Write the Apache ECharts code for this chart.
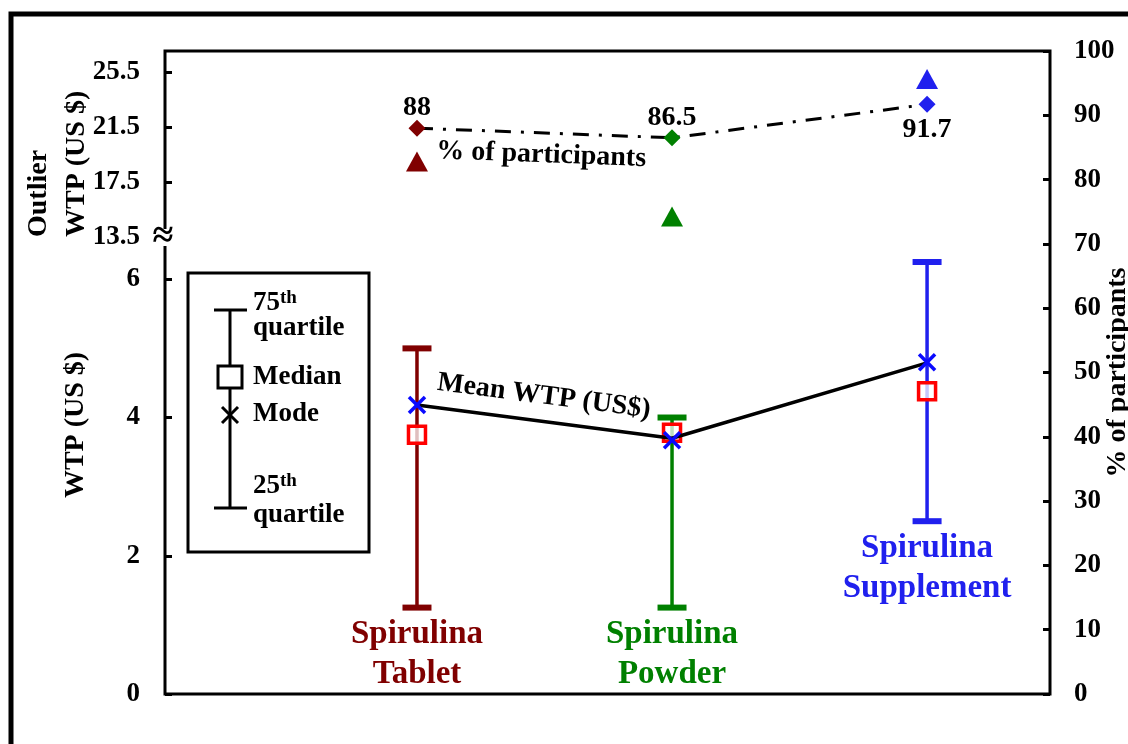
<!DOCTYPE html>
<html>
<head>
<meta charset="utf-8">
<script src="https://cdn.jsdelivr.net/npm/echarts@6/dist/echarts.min.js"></script>
<style>
  html, body { margin: 0; padding: 0; background: #fff; }
  #chart { width: 1128px; height: 744px; }
</style>
</head>
<body>
<div id="chart"></div>
<script>
// ---- data ----
const categories = ['Spirulina\nTablet', 'Spirulina\nPowder', 'Spirulina\nSupplement'];
const q25WTP = [1.25, 1.25, 2.5];          // 25th quartile, US$
const q75WTP = [5.0, 4.0, 6.25];           // 75th quartile, US$
const medianWTP = [3.75, 3.78, 4.38];
const modeWTP = [4.18, 3.67, 4.8];
const meanWTP = [4.18, 3.7, 4.79];
const outlierWTP = [19, 15, 25];
const participantPct = [88, 86.5, 91.7];
const wtpTickValues = [0, 2, 4, 6, 13.5, 17.5, 21.5, 25.5];
const wtpTickLabels = ['0', '2', '4', '6', '13.5', '17.5', '21.5', '25.5'];

// ---- styling ----
const catColors = ['#800000', '#008000', '#2020ee'];
const FONT = '"Liberation Serif", "Times New Roman", serif';

// Broken WTP scale: 0–6 US$ in the lower part, 13.5–25.5 US$ compressed above the break.
// Both map onto a shared 0–100 axis that lines up with the right-hand % axis.
const LOWER_SCALE = 10.75;
const BREAK_BASE = 71.07;
const UPPER_SCALE = 2.138;
function wtpAxis(v) {
  return v < 10 ? v * LOWER_SCALE : BREAK_BASE + (v - 13.5) * UPPER_SCALE;
}
const xPos = categories.map((c, i) => i + 1);

const chart = echarts.init(document.getElementById('chart'), null, { renderer: 'canvas' });

const labelFont = { fontFamily: FONT, fontWeight: 'bold', fontSize: 27, color: '#000' };

const option = {
  animation: false,
  backgroundColor: '#fff',
  grid: {
    left: 165, top: 51, width: 885, height: 643,
    containLabel: false, outerBoundsMode: 'none',
    show: true, borderColor: '#000', borderWidth: 3, backgroundColor: 'transparent'
  },
  xAxis: { type: 'value', min: 0.012, max: 3.482, show: false },
  yAxis: [
    {
      type: 'value', min: 0, max: 100, position: 'left',
      axisLine: { show: false },
      splitLine: { show: false },
      axisTick: {
        show: true, inside: true, length: 7,
        lineStyle: { color: '#000', width: 3 },
        customValues: wtpTickValues.filter(v => v !== 13.5).map(wtpAxis)
      },
      axisLabel: Object.assign({
        margin: 25,
        customValues: wtpTickValues.map(wtpAxis),
        formatter: function (val) {
          const idx = wtpTickValues.findIndex(v => Math.abs(wtpAxis(v) - val) < 1e-6);
          return idx >= 0 ? wtpTickLabels[idx] : '';
        }
      }, labelFont)
    },
    {
      type: 'value', min: 0, max: 100, interval: 10, position: 'right',
      axisLine: { show: false },
      splitLine: { show: false },
      axisTick: { show: true, inside: true, length: 7, lineStyle: { color: '#000', width: 3 } },
      axisLabel: Object.assign({ margin: 24 }, labelFont)
    }
  ],
  series: [
    // interquartile bars
    {
      type: 'custom',
      name: 'quartiles',
      z: 2,
      data: xPos.map((x, i) => [x, wtpAxis(q25WTP[i]), wtpAxis(q75WTP[i])]),
      renderItem: function (params, api) {
        const x = api.value(0);
        const lo = api.coord([x, api.value(1)]);
        const hi = api.coord([x, api.value(2)]);
        const color = catColors[params.dataIndex];
        const half = 14.5;
        return {
          type: 'group',
          children: [
            { type: 'line', shape: { x1: lo[0], y1: lo[1], x2: hi[0], y2: hi[1] }, style: { stroke: color, lineWidth: 3.5 } },
            { type: 'line', shape: { x1: lo[0] - half, y1: lo[1], x2: lo[0] + half, y2: lo[1] }, style: { stroke: color, lineWidth: 6 } },
            { type: 'line', shape: { x1: hi[0] - half, y1: hi[1], x2: hi[0] + half, y2: hi[1] }, style: { stroke: color, lineWidth: 6 } }
          ]
        };
      }
    },
    // category names beneath each bar
    {
      type: 'scatter',
      name: 'names',
      symbolSize: 0,
      silent: true,
      itemStyle: { opacity: 1 },
      data: xPos.map((x, i) => ({
        value: [x, wtpAxis(q25WTP[i])],
        label: { color: catColors[i] }
      })),
      label: {
        show: true, position: 'bottom', distance: 7, opacity: 1,
        formatter: p => categories[p.dataIndex],
        fontFamily: FONT, fontWeight: 'bold', fontSize: 33, lineHeight: 40, align: 'center'
      }
    },
    // medians
    {
      type: 'scatter',
      name: 'Median',
      z: 3,
      symbol: 'rect',
      symbolSize: 17,
      itemStyle: { color: 'rgba(255,255,255,0.75)', borderColor: '#ff0000', borderWidth: 3.5, opacity: 1 },
      data: xPos.map((x, i) => [x, wtpAxis(medianWTP[i])])
    },
    // mean WTP line
    {
      type: 'line',
      name: 'Mean WTP (US$)',
      z: 4,
      symbol: 'none',
      lineStyle: { color: '#000', width: 3.5 },
      data: xPos.map((x, i) => [x, wtpAxis(meanWTP[i])])
    },
    // modes
    {
      type: 'custom',
      name: 'Mode',
      z: 5,
      data: xPos.map((x, i) => [x, wtpAxis(modeWTP[i])]),
      renderItem: function (params, api) {
        const p = api.coord([api.value(0), api.value(1)]);
        const h = 8;
        const st = { stroke: '#0a0aff', lineWidth: 3.5 };
        return {
          type: 'group',
          children: [
            { type: 'line', shape: { x1: p[0] - h, y1: p[1] - h, x2: p[0] + h, y2: p[1] + h }, style: st },
            { type: 'line', shape: { x1: p[0] + h, y1: p[1] - h, x2: p[0] - h, y2: p[1] + h }, style: st }
          ]
        };
      }
    },
    // outlier WTP
    {
      type: 'scatter',
      name: 'Outlier',
      z: 3,
      symbol: 'triangle',
      symbolSize: [22, 20],
      itemStyle: { opacity: 1 },
      data: xPos.map((x, i) => ({ value: [x, wtpAxis(outlierWTP[i])], itemStyle: { color: catColors[i], opacity: 1 } }))
    },
    // % of participants
    {
      type: 'line',
      name: '% of participants',
      yAxisIndex: 1,
      z: 4,
      symbol: 'diamond',
      symbolSize: 17,
      lineStyle: { color: '#000', width: 3, type: [16, 10, 3, 10] },
      data: xPos.map((x, i) => ({
        value: [x, participantPct[i]],
        itemStyle: { color: catColors[i] },
        label: participantPct[i] === Math.max(...participantPct)
          ? { position: 'bottom', distance: 3 }
          : { position: 'top', distance: -2 }
      })),
      label: {
        show: true,
        formatter: p => String(p.value[1]),
        fontFamily: FONT, fontWeight: 'bold', fontSize: 28, color: '#000'
      }
    }
  ]
};

chart.setOption(option);

// ---- annotations placed from the axes' own pixel mapping ----
function px(xi, y, yAxisIndex) {
  return chart.convertToPixel({ xAxisIndex: 0, yAxisIndex: yAxisIndex }, [xi, y]);
}
function textEl(text, x, y, opts) {
  const o = opts || {};
  const align = o.align || 'center';
  const valign = o.valign || 'middle';
  return {
    type: 'text', x: x, y: y, rotation: o.rotation || 0, z: 110,
    style: {
      text: text,
      font: 'bold ' + (o.size || 27) + 'px ' + FONT,
      fill: o.color || '#000', textFill: o.color || '#000',
      align: align, textAlign: align,
      verticalAlign: valign, textVerticalAlign: valign,
      lineHeight: o.lineHeight || undefined
    }
  };
}
// label sitting alongside a line segment
function segmentLabel(text, a, b, t, offset, size) {
  const ang = Math.atan2(b[1] - a[1], b[0] - a[0]);
  const cx = a[0] + (b[0] - a[0]) * t + Math.sin(ang) * offset;
  const cy = a[1] + (b[1] - a[1]) * t - Math.cos(ang) * offset;
  return textEl(text, cx, cy, { rotation: -ang, size: size });
}

const m0 = px(xPos[0], wtpAxis(meanWTP[0]), 0);
const m1 = px(xPos[1], wtpAxis(meanWTP[1]), 0);
const p0 = px(xPos[0], participantPct[0], 1);
const p1 = px(xPos[1], participantPct[1], 1);
const gridLeft = option.grid.left;
const gridRight = option.grid.left + option.grid.width;
const gridMidY = option.grid.top + option.grid.height / 2;
const breakY = chart.convertToPixel({ yAxisIndex: 0 }, wtpAxis(13.5));

const graphics = [
  // outer frame
  { type: 'rect', z: 100, shape: { x: 11, y: 14, width: 1400, height: 1000 }, style: { fill: 'none', stroke: '#000', lineWidth: 5 } },
  // axis break
  { type: 'rect', z: 105, shape: { x: gridLeft - 7, y: breakY - 8, width: 14, height: 17 }, style: { fill: '#fff', stroke: null } },
  textEl('\u2248', gridLeft - 2, breakY, { size: 38 }),
  // line annotations
  segmentLabel('Mean WTP (US$)', m0, m1, 0.485, 25, 28),
  segmentLabel('% of participants', p0, p1, 0.49, -22, 28),
  // axis titles
  textEl('WTP (US $)', 76, 425, { rotation: Math.PI / 2, size: 28 }),
  textEl('Outlier\nWTP (US $)', 58, breakY, { rotation: Math.PI / 2, size: 28, align: 'left', lineHeight: 38 }),
  textEl('% of participants', gridRight + 68, gridMidY, { rotation: Math.PI / 2, size: 28 }),
  // key box
  { type: 'rect', z: 100, shape: { x: 188, y: 273, width: 181, height: 279 }, style: { fill: '#fff', stroke: '#000', lineWidth: 3 } },
  { type: 'line', z: 101, shape: { x1: 230, y1: 310, x2: 230, y2: 508 }, style: { stroke: '#000', lineWidth: 3 } },
  { type: 'line', z: 101, shape: { x1: 214, y1: 310, x2: 247, y2: 310 }, style: { stroke: '#000', lineWidth: 3 } },
  { type: 'line', z: 101, shape: { x1: 214, y1: 508, x2: 247, y2: 508 }, style: { stroke: '#000', lineWidth: 3 } },
  { type: 'rect', z: 102, shape: { x: 218, y: 366, width: 24, height: 22 }, style: { fill: '#fff', stroke: '#000', lineWidth: 3 } },
  { type: 'line', z: 102, shape: { x1: 222, y1: 407, x2: 238, y2: 423 }, style: { stroke: '#000', lineWidth: 3 } },
  { type: 'line', z: 102, shape: { x1: 238, y1: 407, x2: 222, y2: 423 }, style: { stroke: '#000', lineWidth: 3 } },
  textEl('75', 253, 303, { align: 'left' }),
  textEl('th', 280, 298, { align: 'left', size: 19 }),
  textEl('quartile', 253, 328, { align: 'left' }),
  textEl('Median', 253, 377, { align: 'left' }),
  textEl('Mode', 253, 414, { align: 'left' }),
  textEl('25', 253, 486, { align: 'left' }),
  textEl('th', 280, 481, { align: 'left', size: 19 }),
  textEl('quartile', 253, 515, { align: 'left' })
];

chart.setOption({ graphic: { elements: graphics } });
</script>
</body>
</html>
